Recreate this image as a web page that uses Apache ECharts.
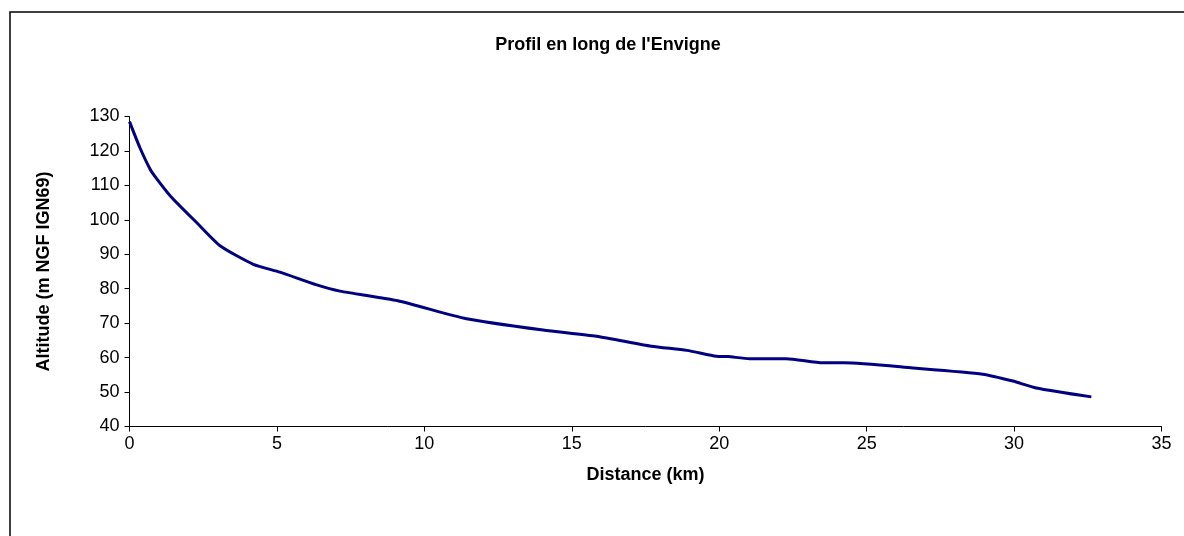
<!DOCTYPE html>
<html>
<head>
<meta charset="utf-8">
<script src="https://cdn.jsdelivr.net/npm/echarts@6/dist/echarts.min.js"></script>
<style>
  html, body { margin: 0; padding: 0; background: #fff; }
  #chart { width: 1184px; height: 536px; }
</style>
</head>
<body>
<div id="chart"></div>
<script>
// Profil en long - distance (km) vs altitude (m NGF IGN69)
const distanceKm = [0, 0.35, 0.7, 0.9, 1.4, 2.3, 3.07, 4.2, 5.1, 6.35, 7.14, 9.1, 11.43,
    14.03, 15.84, 17.7, 18.9, 19.9, 20.3, 21.03, 22.28, 23.52, 24.25, 26.57, 28.94,
    29.96, 30.75, 32.62];
const altitude = [128.5, 121, 114.7, 112.2, 106.8, 99, 92.5, 87.1, 84.8, 81.1, 79.3, 76.5, 71.3,
    68.0, 66.2, 63.3, 62.1, 60.4, 60.3, 59.7, 59.7, 58.5, 58.5, 57.0, 55.2,
    53.2, 51.2, 48.6];

const chartTitle = "Profil en long de l'Envigne";
const xName = 'Distance (km)';
const yName = 'Altitude (m NGF IGN69)';

function initProfileChart() {
    const chartDom = document.getElementById('chart');
    const chart = echarts.init(chartDom);
    const font = 'Liberation Sans, Arial, sans-serif';

    const option = {
        animation: false,
        backgroundColor: '#fff',
        // outer chart-area frame (runs off the right and bottom edges)
        graphic: [{
            type: 'rect',
            shape: { x: 10, y: 12, width: 1200, height: 600 },
            style: { fill: 'none', stroke: '#000', lineWidth: 1.5 },
            silent: true
        }],
        title: {
            text: chartTitle,
            left: 603, top: 31,
            textAlign: 'center',
            textStyle: { fontFamily: font, fontSize: 18, fontWeight: 'bold', color: '#000' }
        },
        grid: { left: 129.5, right: 22.5, top: 116.5, bottom: 109.5 },
        xAxis: {
            type: 'value',
            min: 0, max: 35, interval: 5,
            name: xName,
            nameLocation: 'middle',
            nameGap: 40,
            nameTextStyle: { fontFamily: font, fontSize: 18, fontWeight: 'bold', color: '#000' },
            axisLine: { lineStyle: { color: '#000', width: 1 } },
            axisTick: { length: 5, lineStyle: { color: '#000' } },
            axisLabel: { fontFamily: font, fontSize: 18, color: '#000', margin: 9 },
            splitLine: { show: false }
        },
        yAxis: {
            type: 'value',
            min: 40, max: 130, interval: 10,
            name: yName,
            nameLocation: 'middle',
            nameGap: 76,
            nameTextStyle: { fontFamily: font, fontSize: 18, fontWeight: 'bold', color: '#000' },
            axisLine: { show: true, lineStyle: { color: '#000', width: 1 } },
            axisTick: { show: true, length: 5, lineStyle: { color: '#000' } },
            axisLabel: { fontFamily: font, fontSize: 18, color: '#000', margin: 10 },
            splitLine: { show: false }
        },
        series: [{
            type: 'line',
            data: distanceKm.map((d, i) => [d, altitude[i]]),
            showSymbol: false,
            smooth: 0.2,
            lineStyle: { color: '#000080', width: 3 }
        }]
    };

    chart.setOption(option);
}

initProfileChart();
</script>
</body>
</html>
